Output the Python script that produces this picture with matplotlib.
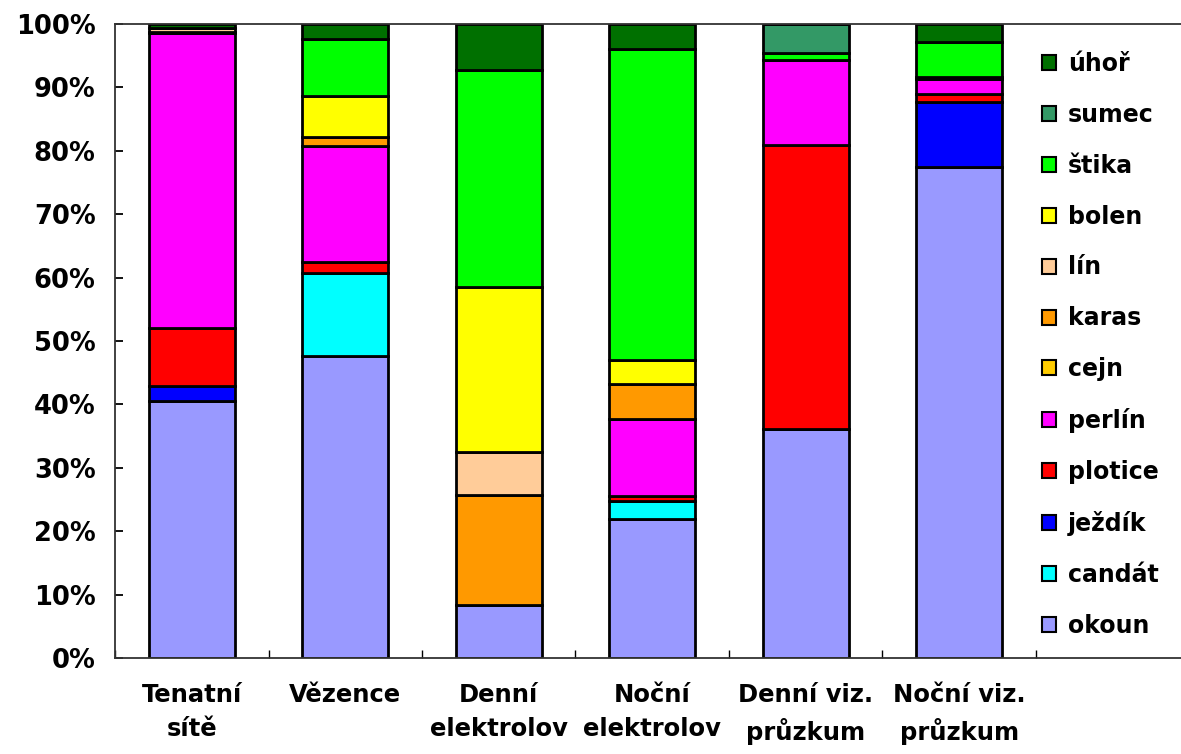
import numpy as np
import matplotlib
matplotlib.use("Agg")
import matplotlib.pyplot as plt
from matplotlib.patches import Patch
from matplotlib.ticker import FuncFormatter

plt.rcParams['font.family'] = ['DejaVu Sans']
plt.rcParams['font.weight'] = 'bold'

# metody odlovu
kategorie = ['Tenatní\nsítě', 'Vězence', 'Denní\nelektrolov', 'Noční\nelektrolov',
             'Denní viz.\nprůzkum', 'Noční viz.\nprůzkum']

# podíly druhů v úlovku (%), pořadí odspodu
druhy = ['okoun', 'candát', 'ježdík', 'plotice', 'perlín', 'cejn',
         'karas', 'lín', 'bolen', 'štika', 'sumec', 'úhoř']
okoun   = [40.5, 47.7,  8.3, 21.9, 36.1, 77.5]
candat  = [ 0.0, 13.1,  0.0,  2.8,  0.0,  0.0]
jezdik  = [ 2.4,  0.0,  0.0,  0.0,  0.0, 10.2]
plotice = [ 9.1,  1.7,  0.0,  0.9, 44.8,  1.3]
perlin  = [46.5, 18.3,  0.0, 12.1, 13.4,  2.3]
cejn    = [ 0.0,  0.0,  0.0,  0.0,  0.0,  0.0]
karas   = [ 0.3,  1.4, 17.4,  5.5,  0.0,  0.0]
lin     = [ 0.5,  0.0,  6.8,  0.0,  0.0,  0.4]
bolen   = [ 0.0,  6.4, 26.0,  3.8,  0.0,  0.0]
stika   = [ 0.0,  9.1, 34.3, 49.1,  1.1,  5.4]
sumec   = [ 0.0,  0.0,  0.0,  0.0,  4.6,  0.0]
uhor    = [ 0.7,  2.3,  7.2,  3.9,  0.0,  2.9]

barvy = ['#9999FF', '#00FFFF', '#0000FF', '#FF0000', '#FF00FF', '#FFCC00',
         '#FF9900', '#FFCC99', '#FFFF00', '#00FF00', '#339966', '#007000']

hodnoty = [okoun, candat, jezdik, plotice, perlin, cejn,
           karas, lin, bolen, stika, sumec, uhor]

fig = plt.figure(figsize=(11.81, 7.54), dpi=100)
ax = fig.add_axes([0.0974, 0.1273, 0.9026, 0.8409])

x = np.arange(len(kategorie))
spodek = np.zeros(len(kategorie))
for vals, barva in zip(hodnoty, barvy):
    vals = np.array(vals)
    ax.bar(x, vals, width=0.56, bottom=spodek, color=barva,
           edgecolor='black', linewidth=2.0, zorder=2)
    spodek += vals

ax.set_ylim(0, 100)
ax.set_xlim(-0.5, 6.445)
ax.set_yticks(np.arange(0, 101, 10))
ax.yaxis.set_major_formatter(FuncFormatter(lambda v, p: f'{v:.0f}%'))
ax.tick_params(axis='y', direction='in', length=6, width=1.3,
               labelsize=18.5, pad=14)

ax.set_xticks(x)
ax.set_xticklabels(kategorie, fontsize=17.5, linespacing=1.5)
ax.tick_params(axis='x', length=0, pad=18)
ax.set_xticks(np.arange(-0.5, 6.0, 1.0), minor=True)
ax.tick_params(axis='x', which='minor', direction='in', length=6, width=1.0)

for s in ['left', 'bottom', 'top']:
    ax.spines[s].set_linewidth(1.3)
    ax.spines[s].set_color('#333333')
ax.spines['right'].set_visible(False)

uchyty = [Patch(facecolor=b, edgecolor='black', linewidth=1.5, label=d)
          for d, b in zip(druhy, barvy)][::-1]
ax.legend(handles=uchyty, loc='upper left', bbox_to_anchor=(0.861, 0.971),
          frameon=False, fontsize=17, handlelength=0.6, handleheight=0.6,
          handletextpad=0.5, labelspacing=1.14, borderaxespad=0)

fig.savefig('out.png', dpi=100)
